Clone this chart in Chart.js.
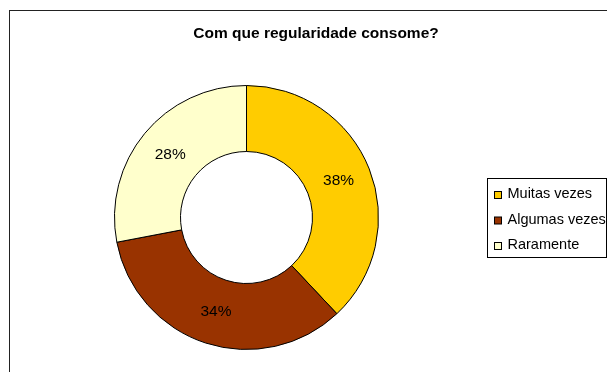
<!DOCTYPE html>
<html>
<head>
<meta charset="utf-8">
<script src="https://cdn.jsdelivr.net/npm/chart.js@4"></script>
<style>
  html, body { margin: 0; padding: 0; background: #fff; }
  canvas { display: block; }
</style>
</head>
<body>
<canvas id="grafico" width="607" height="372"></canvas>
<script>
const titulo = "Com que regularidade consome?";
const categorias = ["Muitas vezes", "Algumas vezes", "Raramente"];
const percentagens = [38, 34, 28];
const cores = ["#FFCC00", "#993300", "#FFFFCC"];

const fonte = '"Liberation Sans", Arial, sans-serif';

// moldura, título, rótulos de percentagem e legenda
const extras = {
  id: "extras",
  beforeDraw(chart) {
    const ctx = chart.ctx;
    ctx.save();
    ctx.fillStyle = "#fff";
    ctx.fillRect(0, 0, chart.width, chart.height);
    ctx.strokeStyle = "#222";
    ctx.lineWidth = 1;
    ctx.strokeRect(9.5, 10.5, 700, 500);
    ctx.restore();
  },
  afterDraw(chart) {
    const ctx = chart.ctx;
    ctx.save();
    ctx.fillStyle = "#000";
    ctx.font = "bold 15.5px " + fonte;
    ctx.textAlign = "center";
    ctx.textBaseline = "alphabetic";
    ctx.fillText(titulo, 316, 38);

    // percentagens no centro de cada fatia
    ctx.font = "15.5px " + fonte;
    ctx.textBaseline = "middle";
    chart.getDatasetMeta(0).data.forEach((arco, i) => {
      const p = arco.tooltipPosition();
      ctx.fillText(percentagens[i] + "%", p.x, p.y);
    });

    // legenda
    const lx = 487.5, ly = 178.5, lw = 119, lh = 79;
    ctx.strokeStyle = "#000";
    ctx.lineWidth = 1;
    ctx.strokeRect(lx, ly, lw, lh);
    ctx.beginPath();
    ctx.rect(lx, ly, lw, lh);
    ctx.clip();
    ctx.textAlign = "left";
    ctx.textBaseline = "alphabetic";
    ctx.font = "14.5px " + fonte;
    categorias.forEach((nome, i) => {
      const base = 198 + i * 25.5;
      ctx.fillStyle = cores[i];
      ctx.fillRect(494.5, base - 6.5, 7, 7);
      ctx.strokeRect(494.5, base - 6.5, 7, 7);
      ctx.fillStyle = "#000";
      ctx.fillText(nome, 507.5, base);
    });
    ctx.restore();
  }
};

new Chart(document.getElementById("grafico"), {
  type: "doughnut",
  data: {
    labels: categorias,
    datasets: [{
      data: percentagens,
      backgroundColor: cores,
      borderColor: "#000",
      borderWidth: 1,
      borderAlign: "center"
    }]
  },
  options: {
    responsive: false,
    animation: false,
    cutout: "50%",
    rotation: 0,
    layout: { padding: { left: 114, right: 228, top: 85, bottom: 22 } },
    plugins: {
      legend: { display: false },
      title: { display: false },
      tooltip: { enabled: false }
    }
  },
  plugins: [extras]
});
</script>
</body>
</html>
